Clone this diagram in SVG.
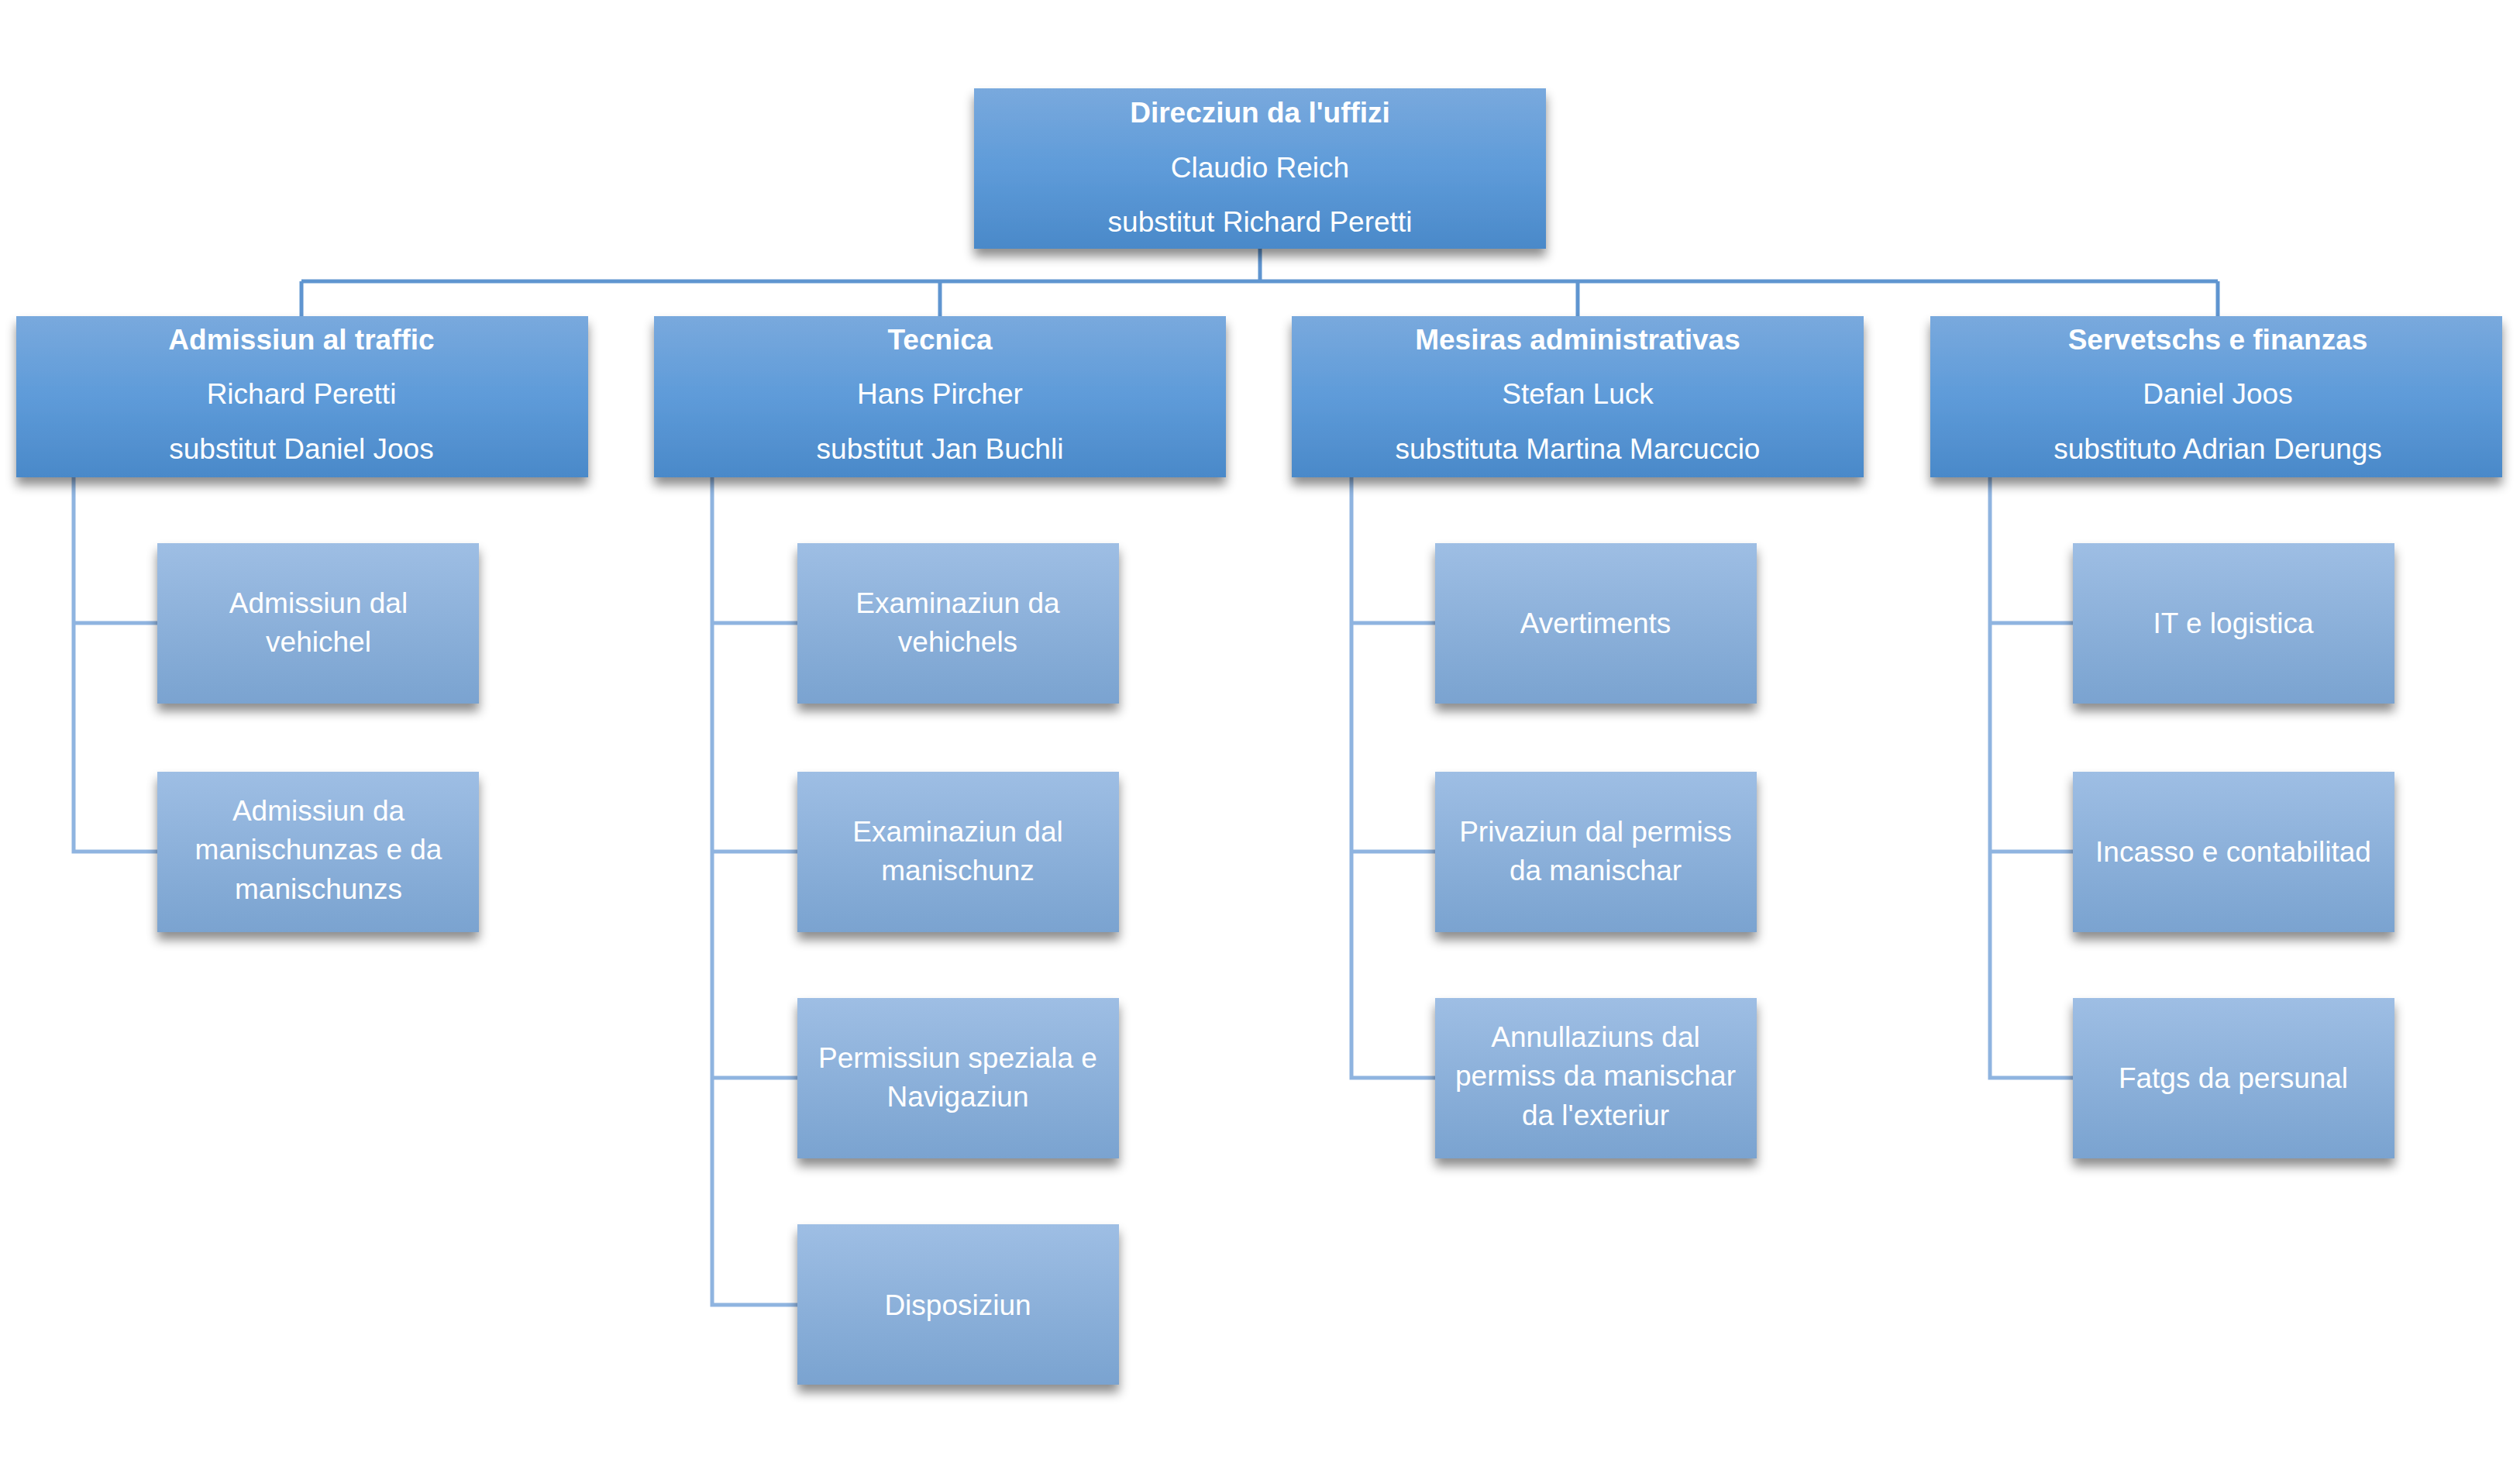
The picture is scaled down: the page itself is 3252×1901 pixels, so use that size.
<svg xmlns="http://www.w3.org/2000/svg" width="3252" height="1901" viewBox="0 0 3252 1901">
<defs>
<linearGradient id="gd" x1="0" y1="0" x2="0" y2="1"><stop offset="0" stop-color="#79a9dd"/><stop offset="0.5" stop-color="#5e9bd9"/><stop offset="1" stop-color="#4a89c9"/></linearGradient>
<linearGradient id="gl" x1="0" y1="0" x2="0" y2="1"><stop offset="0" stop-color="#9ebee4"/><stop offset="1" stop-color="#7aa3d0"/></linearGradient>
<filter id="sh" x="-10%" y="-10%" width="120%" height="140%"><feDropShadow dx="0" dy="10" stdDeviation="7" flood-color="#000" flood-opacity="0.45"/></filter>
</defs>
<style>
.d{fill:url(#gd);filter:url(#sh)}
.l{fill:url(#gl);filter:url(#sh)}
text{font-family:"Liberation Sans",Arial,sans-serif;font-size:37px;fill:#fff;text-anchor:middle}
.b{font-weight:bold}
.c1{fill:none;stroke:#5f95d0;stroke-width:5}
.c2{fill:none;stroke:#8fb4e0;stroke-width:5}
</style>
<rect width="3252" height="1901" fill="#fff"/>
<g id="connectors">
<path class="c1" d="M1626 321V363M389 363H2862M389 363V408M1213 363V408M2036 363V408M2862 363V408"/>
<path class="c2" d="M95 616V1099H203M95 804H203"/>
<path class="c2" d="M919 616V1684H1029M919 804H1029M919 1099H1029M919 1391H1029"/>
<path class="c2" d="M1744 616V1391H1852M1744 804H1852M1744 1099H1852"/>
<path class="c2" d="M2568 616V1391H2675M2568 804H2675M2568 1099H2675"/>
</g>
<g id="n0"><rect class="d" x="1257" y="114" width="738" height="207"/><text x="1626" y="158" class="b">Direcziun da l'uffizi</text><text x="1626" y="229">Claudio Reich</text><text x="1626" y="299">substitut Richard Peretti</text></g>
<g id="n1"><rect class="d" x="21" y="408" width="738" height="208"/><text x="389" y="451" class="b">Admissiun al traffic</text><text x="389" y="521">Richard Peretti</text><text x="389" y="592">substitut Daniel Joos</text></g>
<g id="n2"><rect class="d" x="844" y="408" width="738" height="208"/><text x="1213" y="451" class="b">Tecnica</text><text x="1213" y="521">Hans Pircher</text><text x="1213" y="592">substitut Jan Buchli</text></g>
<g id="n3"><rect class="d" x="1667" y="408" width="738" height="208"/><text x="2036" y="451" class="b">Mesiras administrativas</text><text x="2036" y="521">Stefan Luck</text><text x="2036" y="592">substituta Martina Marcuccio</text></g>
<g id="n4"><rect class="d" x="2491" y="408" width="738" height="208"/><text x="2862" y="451" class="b">Servetschs e finanzas</text><text x="2862" y="521">Daniel Joos</text><text x="2862" y="592">substituto Adrian Derungs</text></g>
<g id="a1"><rect class="l" x="203" y="701" width="415" height="207"/><text x="411" y="791">Admissiun dal</text><text x="411" y="841">vehichel</text></g>
<g id="a2"><rect class="l" x="203" y="996" width="415" height="207"/><text x="411" y="1059">Admissiun da</text><text x="411" y="1109">manischunzas e da</text><text x="411" y="1160">manischunzs</text></g>
<g id="b1"><rect class="l" x="1029" y="701" width="415" height="207"/><text x="1236" y="791">Examinaziun da</text><text x="1236" y="841">vehichels</text></g>
<g id="b2"><rect class="l" x="1029" y="996" width="415" height="207"/><text x="1236" y="1086">Examinaziun dal</text><text x="1236" y="1136">manischunz</text></g>
<g id="b3"><rect class="l" x="1029" y="1288" width="415" height="207"/><text x="1236" y="1378">Permissiun speziala e</text><text x="1236" y="1428">Navigaziun</text></g>
<g id="b4"><rect class="l" x="1029" y="1580" width="415" height="207"/><text x="1236" y="1697">Disposiziun</text></g>
<g id="c1"><rect class="l" x="1852" y="701" width="415" height="207"/><text x="2059" y="817">Avertiments</text></g>
<g id="c2"><rect class="l" x="1852" y="996" width="415" height="207"/><text x="2059" y="1086">Privaziun dal permiss</text><text x="2059" y="1136">da manischar</text></g>
<g id="c3"><rect class="l" x="1852" y="1288" width="415" height="207"/><text x="2059" y="1351">Annullaziuns  dal</text><text x="2059" y="1401">permiss da manischar</text><text x="2059" y="1452">da l'exteriur</text></g>
<g id="d1"><rect class="l" x="2675" y="701" width="415" height="207"/><text x="2882" y="817">IT e logistica</text></g>
<g id="d2"><rect class="l" x="2675" y="996" width="415" height="207"/><text x="2882" y="1112">Incasso e contabilitad</text></g>
<g id="d3"><rect class="l" x="2675" y="1288" width="415" height="207"/><text x="2882" y="1404">Fatgs da persunal</text></g>
</svg>
